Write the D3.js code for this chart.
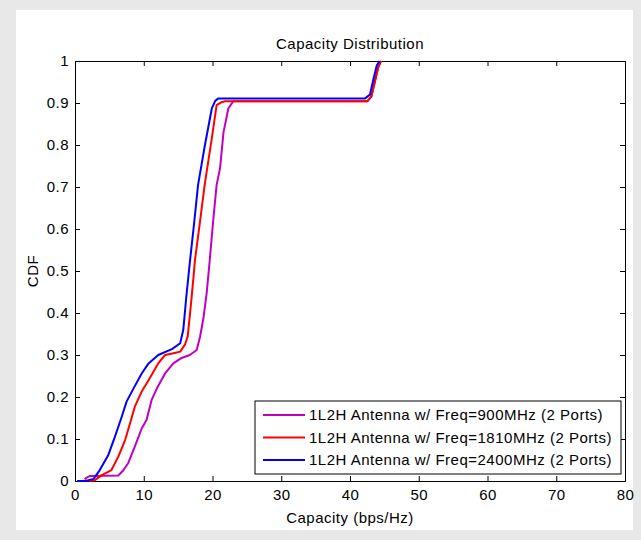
<!DOCTYPE html>
<html>
<head>
<meta charset="utf-8">
<script src="https://cdn.jsdelivr.net/npm/d3@7"></script>
<style>
  body { margin: 0; background: #e8e8e8; }
  svg { display: block; }
  text { font-family: "Liberation Sans", Arial, sans-serif; fill: #000; letter-spacing: 0.5px; }
</style>
</head>
<body>
<script>
// Capacity Distribution (empirical CDF)
let xTicks = [0, 10, 20, 30, 40, 50, 60, 70, 80];
let yTicks = [0, 0.1, 0.2, 0.3, 0.4, 0.5, 0.6, 0.7, 0.8, 0.9, 1];
let seriesNames = [
    '1L2H Antenna w/ Freq=900MHz (2 Ports)',
    '1L2H Antenna w/ Freq=1810MHz (2 Ports)',
    '1L2H Antenna w/ Freq=2400MHz (2 Ports)'
];
let seriesColors = ['#c000c0', '#ff0000', '#0000ff'];

// 900MHz
let cap900 = [1.4, 1.7, 2.2, 6.3, 7.0, 7.75, 8.7, 9.7, 10.4, 11.15, 11.9, 13.1, 14.3, 15.5, 16.7, 17.7, 18.2, 18.7, 19.15, 19.6, 20.1, 20.6, 21.1, 21.6, 22.3, 23.0, 42.5, 43.1, 43.6, 44.1, 44.5];
let cdf900 = [0.004, 0.008, 0.012, 0.013, 0.025, 0.043, 0.082, 0.125, 0.145, 0.193, 0.22, 0.256, 0.28, 0.293, 0.30, 0.312, 0.344, 0.39, 0.447, 0.526, 0.62, 0.705, 0.745, 0.83, 0.887, 0.904, 0.904, 0.915, 0.95, 0.985, 1];
// 1810MHz
let cap1810 = [2.0, 2.9, 3.9, 5.3, 6.3, 7.3, 8.0, 8.7, 9.7, 10.7, 12.1, 13.1, 14.5, 15.3, 16.0, 16.4, 16.8, 17.2, 17.45, 18.2, 18.9, 19.9, 20.6, 21.2, 21.8, 42.5, 43.1, 43.6, 44.1, 44.5];
let cdf1810 = [0, 0.002, 0.014, 0.026, 0.058, 0.098, 0.137, 0.177, 0.213, 0.24, 0.28, 0.30, 0.305, 0.308, 0.325, 0.345, 0.41, 0.479, 0.526, 0.62, 0.71, 0.816, 0.895, 0.901, 0.904, 0.904, 0.915, 0.95, 0.985, 1];
// 2400MHz
let cap2400 = [0.3, 1.5, 2.7, 3.6, 4.85, 5.8, 6.8, 7.5, 8.5, 9.7, 10.7, 12.1, 14.1, 15.3, 15.75, 16.2, 16.7, 17.3, 17.9, 18.9, 19.9, 20.4, 20.85, 42.2, 42.9, 43.4, 43.9, 44.3];
let cdf2400 = [0, 0, 0.005, 0.026, 0.062, 0.105, 0.153, 0.189, 0.22, 0.256, 0.28, 0.30, 0.314, 0.328, 0.36, 0.44, 0.52, 0.61, 0.705, 0.8, 0.887, 0.905, 0.911, 0.911, 0.92, 0.956, 0.99, 1];

let series = [
    {name: seriesNames[0], color: seriesColors[0], x: cap900, y: cdf900},
    {name: seriesNames[1], color: seriesColors[1], x: cap1810, y: cdf1810},
    {name: seriesNames[2], color: seriesColors[2], x: cap2400, y: cdf2400}
];

let W = 641, H = 540;
let margin = {top: 61, right: 16, bottom: 59, left: 75},
    width = W - margin.left - margin.right,
    height = H - margin.top - margin.bottom;

let svg = d3.select('body').append('svg')
    .attr('width', W)
    .attr('height', H);

// white figure panel on grey background
svg.append('rect')
    .attr('x', 16).attr('y', 10)
    .attr('width', 617).attr('height', 520)
    .attr('fill', '#fff');

let g = svg.append('g')
    .attr('transform', 'translate(' + margin.left + ',' + margin.top + ')');

let x = d3.scaleLinear().domain([0, 80]).range([0, width]);
let y = d3.scaleLinear().domain([0, 1]).range([height, 0]);

let fmtY = d => d === 0 ? '0' : d === 1 ? '1' : d3.format('.1f')(d);

// axes, ticks inward
let tickLen = 5;
let xAxis = g.append('g')
    .attr('transform', 'translate(0,' + height + ')')
    .call(d3.axisBottom(x).tickValues(xTicks).tickSize(-tickLen).tickPadding(8));
let yAxis = g.append('g')
    .call(d3.axisLeft(y).tickValues(yTicks).tickSize(-tickLen).tickPadding(6).tickFormat(fmtY));
let xTop = g.append('g')
    .call(d3.axisTop(x).tickValues(xTicks).tickSize(-tickLen).tickFormat(''));
let yRight = g.append('g')
    .attr('transform', 'translate(' + width + ',0)')
    .call(d3.axisRight(y).tickValues(yTicks).tickSize(-tickLen).tickFormat(''));

[xAxis, yAxis, xTop, yRight].forEach(a => {
    a.selectAll('.domain').attr('stroke', '#000');
    a.selectAll('.tick line').attr('stroke', '#000');
    a.selectAll('text')
        .style('font-family', '"Liberation Sans", Arial, sans-serif')
        .style('font-size', '15px')
        .attr('fill', '#000');
});

// curves
let line = d3.line()
    .x(d => x(d[0]))
    .y(d => y(d[1]));

g.selectAll('.cdf')
    .data(series)
    .enter()
    .append('path')
    .classed('cdf', true)
    .attr('d', s => line(s.x.map((v, i) => [v, s.y[i]])))
    .attr('fill', 'none')
    .attr('stroke', s => s.color)
    .attr('stroke-width', 2)
    .attr('stroke-linejoin', 'round');

// titles
svg.append('text')
    .attr('x', margin.left + width / 2)
    .attr('y', 49)
    .attr('text-anchor', 'middle')
    .style('font-size', '15px')
    .text('Capacity Distribution');

svg.append('text')
    .attr('x', margin.left + width / 2)
    .attr('y', 523)
    .attr('text-anchor', 'middle')
    .style('font-size', '15px')
    .text('Capacity (bps/Hz)');

svg.append('text')
    .attr('transform', 'translate(38,' + (margin.top + height / 2) + ') rotate(-90)')
    .attr('text-anchor', 'middle')
    .style('font-size', '15px')
    .text('CDF');

// legend
let lg = svg.append('g').attr('transform', 'translate(255,401)');
lg.append('rect')
    .attr('width', 366).attr('height', 73)
    .attr('fill', '#fff')
    .attr('stroke', '#000');

let item = lg.selectAll('.item')
    .data(series)
    .enter()
    .append('g')
    .attr('transform', (d, i) => 'translate(0,' + (14 + i * 22.5) + ')');

item.append('line')
    .attr('x1', 8).attr('x2', 50)
    .attr('stroke', d => d.color)
    .attr('stroke-width', 2);

item.append('text')
    .attr('x', 54)
    .attr('dy', '0.35em')
    .style('font-size', '15px')
    .text(d => d.name);
</script>
</body>
</html>
